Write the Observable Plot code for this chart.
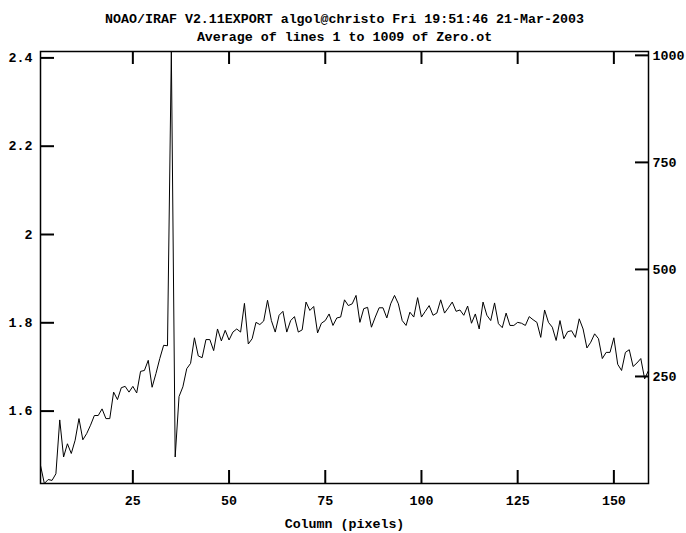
<!DOCTYPE html>
<html><head><meta charset="utf-8">
<script src="https://cdn.jsdelivr.net/npm/d3@7"></script>
<script src="https://cdn.jsdelivr.net/npm/@observablehq/plot@0.6"></script>
<style>body{margin:0;background:#fff}</style>
</head><body><div id="chart"></div>
<script>
// Average value per column (columns 1..159)
const values = [
  1.477, 1.436, 1.445, 1.443, 1.458, 1.580, 1.496, 1.526, 1.504, 1.534,
  1.583, 1.535, 1.549, 1.568, 1.590, 1.590, 1.605, 1.583, 1.583, 1.643,
  1.626, 1.653, 1.656, 1.643, 1.656, 1.641, 1.690, 1.692, 1.715, 1.654,
  1.685, 1.719, 1.749, 1.748, 2.414, 1.496, 1.633, 1.655, 1.696, 1.708,
  1.766, 1.725, 1.721, 1.762, 1.762, 1.737, 1.786, 1.759, 1.783, 1.761,
  1.779, 1.786, 1.779, 1.844, 1.752, 1.764, 1.801, 1.796, 1.804, 1.851,
  1.805, 1.779, 1.817, 1.826, 1.779, 1.805, 1.814, 1.779, 1.784, 1.847,
  1.828, 1.837, 1.777, 1.799, 1.805, 1.820, 1.794, 1.811, 1.813, 1.852,
  1.839, 1.843, 1.862, 1.801, 1.832, 1.835, 1.790, 1.813, 1.834, 1.834,
  1.811, 1.843, 1.862, 1.843, 1.805, 1.794, 1.824, 1.813, 1.857, 1.813,
  1.826, 1.839, 1.817, 1.822, 1.852, 1.822, 1.834, 1.847, 1.826, 1.829,
  1.817, 1.838, 1.799, 1.820, 1.786, 1.847, 1.817, 1.805, 1.845, 1.798,
  1.789, 1.822, 1.794, 1.794, 1.801, 1.799, 1.794, 1.814, 1.807, 1.801,
  1.767, 1.829, 1.801, 1.790, 1.760, 1.805, 1.764, 1.780, 1.782, 1.767,
  1.809, 1.786, 1.743, 1.756, 1.775, 1.764, 1.719, 1.733, 1.733, 1.766,
  1.706, 1.692, 1.733, 1.739, 1.701, 1.709, 1.719, 1.673, 1.692
];
const xDomain = [1, 159];
const yDomain = [1.436, 2.4145];
const rightDomain = [0, 1009];
const xTicks = [25, 50, 75, 100, 125, 150];
const yTicks = [1.6, 1.8, 2, 2.2, 2.4];
const yTickLabels = ["1.6", "1.8", "2", "2.2", "2.4"];
const rightTicks = [250, 500, 750, 1000];
const title1 = "NOAO/IRAF V2.11EXPORT algol@christo Fri 19:51:46 21-Mar-2003";
const title2 = "Average of lines 1 to 1009 of Zero.ot";
const xLabel = "Column (pixels)";

const data = values.map((v, i) => ({column: i + 1, value: v}));
const rightToY = d3.scaleLinear(rightDomain, yDomain);

const W = 686, H = 533, mt = 51, mb = 50, ml = 40, mr = 38;
const fw = W - ml - mr, fh = H - mt - mb;
const font = {fontWeight: "bold", fontSize: 13.3, fill: "#000"};

const chart = Plot.plot({
  width: W, height: H,
  marginTop: mt, marginBottom: mb, marginLeft: ml, marginRight: mr,
  style: {fontFamily: "'Liberation Mono', 'DejaVu Sans Mono', monospace", fontSize: "13px", background: "#fff", color: "#000"},
  x: {domain: xDomain, axis: null},
  y: {domain: yDomain, axis: null},
  marks: [
    Plot.line(data, {x: "column", y: "value", stroke: "#000", strokeWidth: 1, clip: true}),
    Plot.frame({stroke: "#000", strokeWidth: 1.5}),
    Plot.tickX(xTicks, {x: d => d, insetTop: fh - 13, stroke: "#000", strokeWidth: 2}),
    Plot.tickX(xTicks, {x: d => d, insetBottom: fh - 13, stroke: "#000", strokeWidth: 2}),
    Plot.tickY(yTicks, {y: d => d, insetRight: fw - 14, stroke: "#000", strokeWidth: 2}),
    Plot.tickY(rightTicks, {y: d => rightToY(d), insetLeft: fw - 13, stroke: "#000", strokeWidth: 2}),
    Plot.text(xTicks, {x: d => d, frameAnchor: "bottom", dy: 21, text: d => String(d), ...font}),
    Plot.text(yTicks, {y: d => d, frameAnchor: "left", dx: -8, textAnchor: "end", text: (d, i) => yTickLabels[i], ...font}),
    Plot.text(rightTicks, {y: d => rightToY(d), frameAnchor: "right", dx: 4, textAnchor: "start", text: d => String(d), ...font}),
    Plot.text([title1], {frameAnchor: "top", dy: -38, text: d => d, ...font}),
    Plot.text([title2], {frameAnchor: "top", dy: -20, text: d => d, ...font}),
    Plot.text([xLabel], {frameAnchor: "bottom", dy: 44, text: d => d, ...font})
  ]
});
document.getElementById("chart").appendChild(chart);
</script>
</body></html>
